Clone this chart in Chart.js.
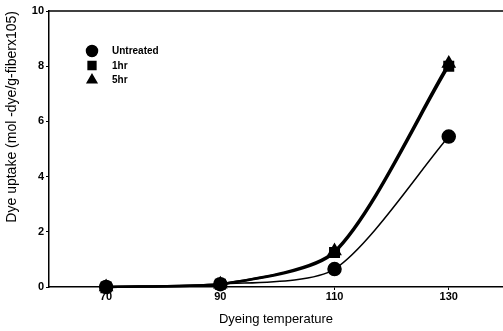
<!DOCTYPE html>
<html><head><meta charset="utf-8">
<script src="https://cdn.jsdelivr.net/npm/chart.js@4/dist/chart.umd.min.js"></script>
<style>html,body{margin:0;padding:0;background:#fff}#wrap{width:503px;height:331px}</style>
</head><body><div id="wrap"><canvas id="c" width="503" height="331"></canvas></div>
<script>
const temperatures = [70, 90, 110, 130];
const untreated = [0, 0.1, 0.65, 5.45];
const hr1 = [0, 0.1, 1.25, 8.0];
const hr5 = [0, 0.1, 1.3, 8.1];
const seriesNames = ['Untreated', '1hr', '5hr'];
const xTicks = [70, 90, 110, 130];
const yTicks = [0, 2, 4, 6, 8, 10];

const pts = v => temperatures.map((t, i) => ({x: t, y: v[i]}));
const FONT = 'Liberation Sans, Arial, sans-serif';

const legendPlugin = {
  id: 'insideLegend',
  afterDatasetsDraw(chart) {
    const ctx = chart.ctx;
    const styles = ['circle', 'rect', 'triangle'];
    ctx.save();
    ctx.font = 'bold 10px ' + FONT;
    ctx.fillStyle = '#000';
    ctx.textBaseline = 'middle';
    const x0 = 92, y0 = 51, dy = 14.5;
    styles.forEach((s, i) => {
      const cy = y0 + i * dy;
      Chart.helpers.drawPoint(ctx, {pointStyle: s, radius: 5.5, borderWidth: 1}, x0, cy);
      ctx.fill();
      ctx.fillText(seriesNames[i], x0 + 20, cy + 0.5);
    });
    ctx.restore();
  }
};
const topBorder = {
  id: 'topBorder',
  afterDraw(chart) {
    const a = chart.chartArea, ctx = chart.ctx;
    ctx.save();
    ctx.strokeStyle = '#000'; ctx.lineWidth = 1.5;
    ctx.beginPath(); ctx.moveTo(a.left, a.top); ctx.lineTo(a.right, a.top); ctx.stroke();
    ctx.restore();
  }
};

const ds = (label, data, style, width, r) => ({
  label, data: pts(data), borderColor: '#000', backgroundColor: '#000',
  borderWidth: width, pointStyle: style, pointRadius: r, pointHoverRadius: r,
  tension: 0.25, fill: false, clip: false
});

new Chart(document.getElementById('c'), {
  type: 'line',
  data: { datasets: [
    ds(seriesNames[0], untreated, 'circle', 1.5, 6.5),
    ds(seriesNames[1], hr1, 'rect', 2.5, 6),
    ds(seriesNames[2], hr5, 'triangle', 2.5, 6)
  ]},
  options: {
    responsive: false, animation: false,
    layout: { autoPadding: false, padding: { top: 11, right: 0, left: 0, bottom: 0 } },
    plugins: { legend: { display: false }, tooltip: { enabled: false } },
    scales: {
      x: {
        type: 'linear', min: 60, max: 139.5,
        afterBuildTicks: s => { s.ticks = xTicks.map(v => ({value: v})); },
        afterFit: s => { s.height = 44; s.paddingRight = 0; s.paddingLeft = 0; },
        grid: { drawOnChartArea: false, drawTicks: true, tickLength: 3, color: '#000' },
        border: { color: '#000', width: 1.5 },
        ticks: { color: '#000', font: { family: FONT, size: 11, weight: 'bold' }, padding: 0, maxRotation: 0 },
        title: { display: true, text: 'Dyeing temperature', color: '#000', font: { family: FONT, size: 13 }, padding: { top: 5 } }
      },
      y: {
        min: 0, max: 10,
        afterBuildTicks: s => { s.ticks = yTicks.map(v => ({value: v})); },
        afterFit: s => { s.width = 49; s.paddingTop = 0; s.paddingBottom = 0; },
        grid: { drawOnChartArea: false, drawTicks: true, tickLength: 3, color: '#000' },
        border: { color: '#000', width: 1.5 },
        ticks: { color: '#000', font: { family: FONT, size: 11, weight: 'bold' }, padding: 2 },
        title: { display: true, text: 'Dye uptake (mol -dye/g-fiberx105)', align: 'end', color: '#000', font: { family: FONT, size: 14 }, padding: { bottom: 2 } }
      }
    }
  },
  plugins: [legendPlugin, topBorder]
});
</script></body></html>
